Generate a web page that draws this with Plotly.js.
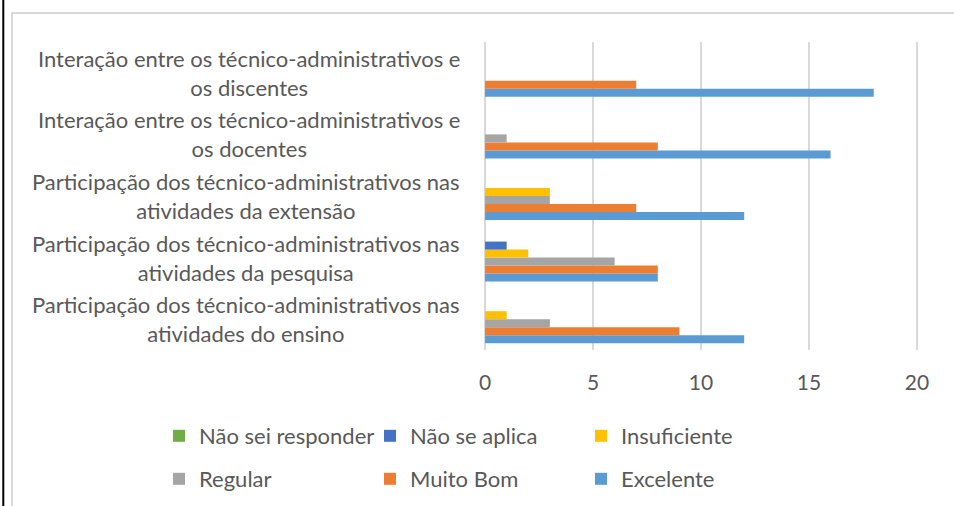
<!DOCTYPE html>
<html><head><meta charset="utf-8">
<script src="https://cdn.plot.ly/plotly-3.0.1.min.js"></script>
<style>html,body{margin:0;padding:0;background:#fff}#chart{width:954px;height:506px}</style>
</head><body><div id="chart"></div>
<script>
const categories = [
  "Participação dos técnico-administrativos nas<br>atividades do ensino",
  "Participação dos técnico-administrativos nas<br>atividades da pesquisa",
  "Participação dos técnico-administrativos nas<br>atividades da extensão",
  "Interação entre os técnico-administrativos e<br>os docentes",
  "Interação entre os técnico-administrativos e<br>os discentes"
];
const seriesNames = ["Excelente", "Muito Bom", "Regular", "Insuficiente", "Não se aplica", "Não sei responder"];
const excelente    = [12, 8, 12, 16, 18];
const muitoBom     = [9, 8, 7, 8, 7];
const regular      = [3, 6, 3, 1, 0];
const insuficiente = [1, 2, 3, 0, 0];
const naoSeAplica  = [0, 1, 0, 0, 0];
const naoSei       = [0, 0, 0, 0, 0];
const xTicks = [0, 5, 10, 15, 20];
const xTickLabels = ["0", "5", "10", "15", "20"];

const seriesValues = [excelente, muitoBom, regular, insuficiente, naoSeAplica, naoSei];
const colors = ["#5b9bd5", "#ed7d31", "#a5a5a5", "#ffc000", "#4472c4", "#70ad47"];

const W = 954, H = 506;
const M = {l: 484, r: 36, t: 42, b: 156, autoexpand: false};
const pw = W - M.l - M.r, ph = H - M.t - M.b;
const px2x = p => (p - M.l) / pw;
const py2y = p => (H - M.b - p) / ph;
const FONT = "Lato, 'Open Sans', sans-serif";
const TXT = "#595959";

const traces = seriesNames.map((name, i) => ({
  type: "bar",
  orientation: "h",
  name: name,
  y: categories,
  x: seriesValues[i],
  marker: {color: colors[i], line: {width: 0}},
  legend: i < 3 ? "legend2" : "legend",
  hoverinfo: "x+name"
}));

const annotations = categories.map((c, i) => ({
  xref: "paper", x: 0, xanchor: "right", xshift: -22,
  yref: "y", y: i, yanchor: "middle",
  text: c, showarrow: false, align: "center",
  font: {family: FONT, size: 22, color: TXT}
}));

const legendBase = {
  orientation: "h", xref: "paper", yref: "paper",
  x: px2x(159), xanchor: "left", yanchor: "middle",
  traceorder: "reversed", entrywidth: 166, entrywidthmode: "pixels",
  font: {family: FONT, size: 22, color: TXT},
  bgcolor: "rgba(0,0,0,0)"
};

const layout = {
  width: W, height: H,
  margin: M,
  paper_bgcolor: "#fff", plot_bgcolor: "#fff",
  barmode: "group", bargap: 0.22, bargroupgap: 0,
  xaxis: {
    range: [-0.05, 20.05], tickvals: xTicks, ticktext: xTickLabels,
    showgrid: true, gridcolor: "#d9d9d9", gridwidth: 1.3,
    zeroline: true, zerolinecolor: "#d9d9d9", zerolinewidth: 1.3,
    showline: false, ticks: "", ticklabelstandoff: 18,
    tickfont: {family: FONT, size: 21, color: TXT},
    fixedrange: true
  },
  yaxis: {
    type: "category", showticklabels: false, showgrid: false, zeroline: false,
    showline: false, ticks: "", fixedrange: true
  },
  showlegend: true,
  legend: Object.assign({}, legendBase, {y: py2y(436)}),
  legend2: Object.assign({}, legendBase, {y: py2y(479)}),
  annotations: annotations,
  shapes: [
    {type: "rect", xref: "paper", yref: "paper",
     x0: px2x(12), x1: px2x(970), y0: py2y(530), y1: py2y(13),
     line: {color: "#d9d9d9", width: 2}, fillcolor: "rgba(0,0,0,0)", layer: "below"},
    {type: "line", xref: "paper", yref: "paper",
     x0: px2x(3.3), x1: px2x(3.3), y0: py2y(520), y1: py2y(-10),
     line: {color: "#000", width: 2}}
  ]
};

Plotly.newPlot("chart", traces, layout, {displayModeBar: false, staticPlot: true});
</script>
</body></html>
